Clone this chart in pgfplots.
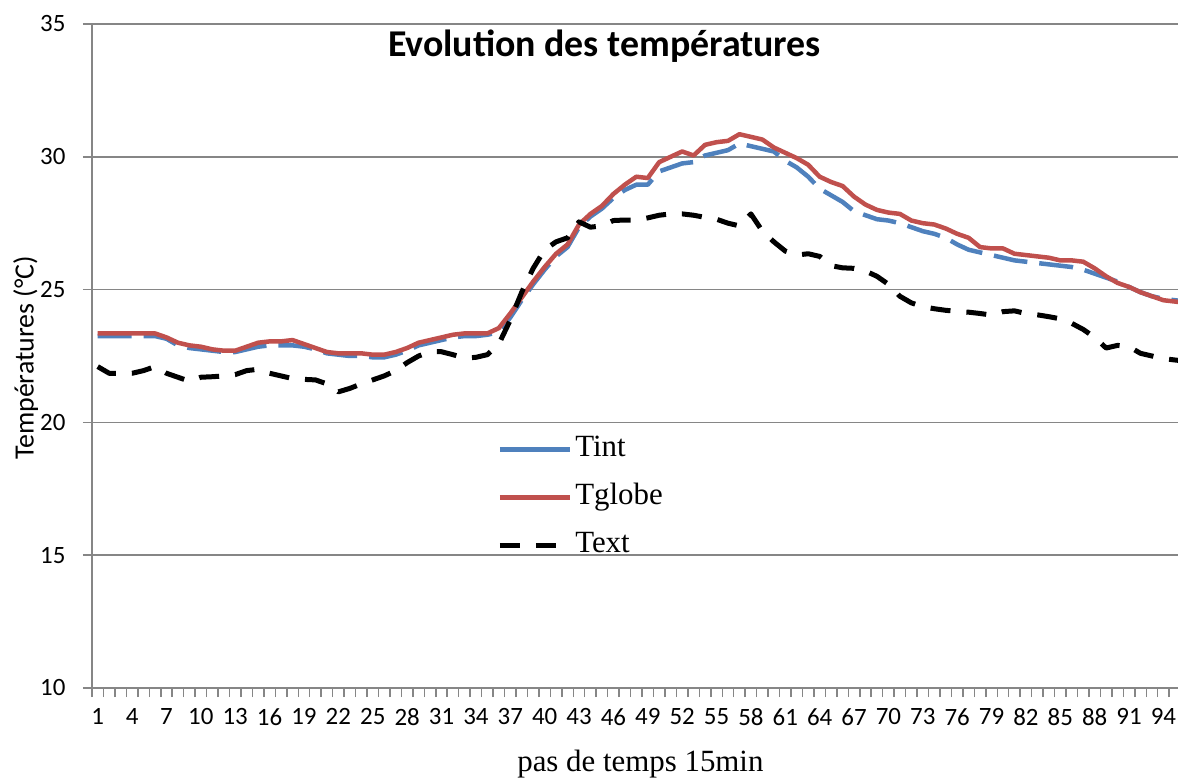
\documentclass[border=0pt]{standalone}
\usepackage{pgfplots}
\usepackage{pgfplotstable}
\pgfplotsset{compat=1.18}
\usepackage{fontspec}
\setmainfont{Liberation Serif}
\newfontfamily\calibri{Carlito}

\definecolor{tintblue}{RGB}{79,129,189}
\definecolor{tglobered}{RGB}{192,80,77}
\definecolor{axisgray}{RGB}{134,134,134}

\pgfplotsset{
  linelegend/.style={legend image code/.code={\draw[##1] (0bp,0bp) -- (70bp,0bp);}},
  solidlegend/.style={legend image code/.code={\draw[##1,solid,line width=5bp] (0bp,0bp) -- (70bp,0bp);}},
}

% pas de temps, Tglobe, Tint, Text
\pgfplotstableread{
i  tglobe tint  text
1  23.35  23.25 22.10
2  23.35  23.25 21.85
3  23.35  23.25 21.85
4  23.35  23.25 21.85
5  23.35  23.25 21.95
6  23.35  23.25 22.10
7  23.20  23.15 21.85
8  23.00  22.90 21.70
9  22.90  22.80 21.55
10 22.85  22.75 21.70
11 22.75  22.70 21.72
12 22.70  22.65 21.75
13 22.70  22.65 21.80
14 22.85  22.75 21.95
15 23.00  22.85 22.00
16 23.05  22.90 21.85
17 23.05  22.90 21.75
18 23.10  22.90 21.65
19 22.95  22.85 21.62
20 22.80  22.75 21.60
21 22.65  22.60 21.45
22 22.60  22.55 21.15
23 22.60  22.50 21.28
24 22.60  22.50 21.45
25 22.55  22.45 21.60
26 22.55  22.45 21.75
27 22.65  22.55 21.95
28 22.80  22.70 22.25
29 23.00  22.90 22.50
30 23.10  23.00 22.66
31 23.20  23.10 22.66
32 23.30  23.20 22.55
33 23.35  23.25 22.42
34 23.35  23.25 22.45
35 23.35  23.30 22.55
36 23.55  23.40 22.95
37 24.10  23.95 23.85
38 24.70  24.60 24.90
39 25.30  25.20 25.80
40 25.85  25.75 26.50
41 26.35  26.25 26.80
42 26.70  26.60 26.95
43 27.45  27.35 27.55
44 27.85  27.75 27.35
45 28.15  28.05 27.40
46 28.60  28.45 27.60
47 28.95  28.75 27.62
48 29.25  28.95 27.62
49 29.20  28.95 27.70
50 29.80  29.45 27.80
51 30.00  29.60 27.85
52 30.20  29.75 27.85
53 30.05  29.80 27.80
54 30.45  30.05 27.72
55 30.55  30.15 27.65
56 30.60  30.25 27.50
57 30.85  30.50 27.40
58 30.75  30.40 27.85
59 30.65  30.30 27.20
60 30.35  30.20 26.80
61 30.15  29.85 26.45
62 29.95  29.60 26.30
63 29.70  29.25 26.35
64 29.25  28.80 26.25
65 29.05  28.55 25.90
66 28.90  28.30 25.82
67 28.50  27.95 25.80
68 28.20  27.80 25.70
69 28.00  27.65 25.50
70 27.90  27.60 25.20
71 27.85  27.50 24.75
72 27.60  27.35 24.50
73 27.50  27.20 24.36
74 27.45  27.10 24.28
75 27.30  26.95 24.22
76 27.10  26.70 24.18
77 26.95  26.50 24.15
78 26.60  26.40 24.10
79 26.55  26.30 24.04
80 26.55  26.20 24.17
81 26.35  26.10 24.20
82 26.30  26.05 24.10
83 26.25  26.00 24.05
84 26.20  25.95 23.98
85 26.10  25.90 23.90
86 26.10  25.85 23.73
87 26.05  25.75 23.50
88 25.80  25.60 23.20
89 25.50  25.45 22.80
90 25.25  25.30 22.90
91 25.10  25.10 22.85
92 24.90  24.90 22.60
93 24.75  24.75 22.50
94 24.60  24.65 22.40
95 24.55  24.60 22.35
96 24.50  24.55 22.30
}\temps

\begin{document}
\begin{tikzpicture}
\path[use as bounding box] (-92bp,-90bp) rectangle (1086bp,688bp);
\begin{axis}[
  at={(0,0)}, anchor=south west,
  scale only axis, width=1086bp, height=664bp,
  xmin=0.5, xmax=95.27, ymin=10, ymax=35,
  axis x line*=bottom, axis y line*=left,
  axis line style={axisgray, line width=1.5bp, -},
  xtick={0.5,1.5,...,95.5}, xticklabels={},
  extra x ticks={1,4,...,94},
  extra x tick style={major tick length=0pt},
  ytick={10,15,...,35},
  tick align=outside, major tick length=9bp,
  tick style={axisgray, line width=1.5bp},
  ymajorgrids, grid style={axisgray, line width=1.5bp},
  /pgf/number format/assume math mode=true,
  ticklabel style={font=\calibri\fontsize{25}{25}\selectfont, black},
  yticklabel style={xshift=-14bp},
  xticklabel style={yshift=-17bp},
  title={Evolution des températures},
  title style={at={(0.472,1)}, anchor=base, yshift=-38bp,
    font=\calibri\bfseries\fontsize{38}{38}\selectfont},
  ylabel={Températures (°C)},
  ylabel style={at={(-0.061,0.497)}, anchor=center,
    font=\calibri\fontsize{28}{28}\selectfont},
  xlabel={pas de temps 15min},
  xlabel style={at={(0.505,0)}, anchor=base, yshift=-83bp,
    font=\fontsize{31}{31}\selectfont},
  legend style={at={(0.373,0.3795)}, anchor=north west, draw=none, fill=none,
    font=\fontsize{31}{31}\selectfont, inner sep=0pt, row sep=21bp,
    nodes={inner sep=0pt, text height=20bp, text depth=7bp},
    /tikz/every odd column/.append style={column sep=3bp}},
  legend cell align=left,
  linelegend,
  every axis plot/.append style={line join=round},
]
\addplot[tintblue, line width=4.5bp, dash pattern=on 34bp off 12bp, solidlegend]
  table[x=i, y=tint] {\temps};
\addlegendentry{Tint}
\addplot[tglobered, line width=4.5bp]
  table[x=i, y=tglobe] {\temps};
\addlegendentry{Tglobe}
\addplot[black, line width=5bp, dash pattern=on 20bp off 16bp]
  table[x=i, y=text] {\temps};
\addlegendentry{Text}
\end{axis}
\end{tikzpicture}
\end{document}
